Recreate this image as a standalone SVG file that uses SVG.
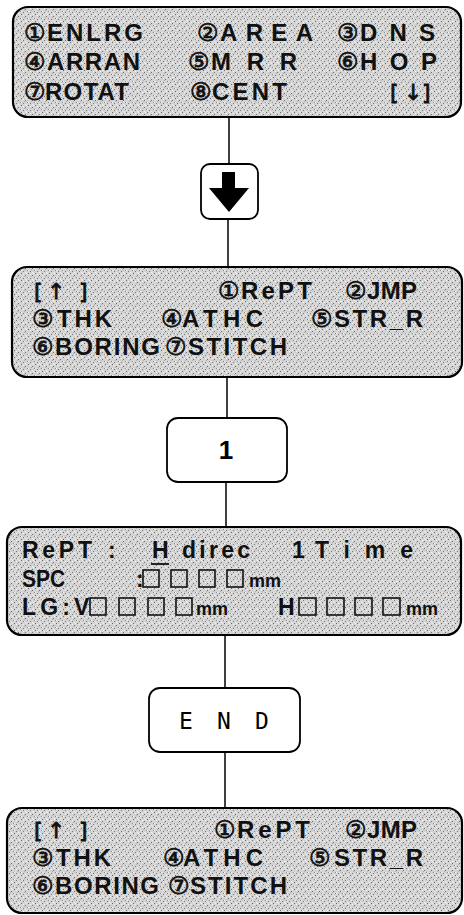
<svg xmlns="http://www.w3.org/2000/svg" width="464" height="915" viewBox="0 0 464 915">
<defs>
<pattern id="ht" width="7" height="7" patternUnits="userSpaceOnUse">
<rect width="7" height="7" fill="#d4d4d4"/>
<rect x="0" y="0" width="1" height="1" fill="#6a6a6a"/>
<rect x="4" y="2" width="1" height="1" fill="#707070"/>
<rect x="2" y="5" width="1" height="1" fill="#7a7a7a"/>
<rect x="6" y="4" width="1" height="1" fill="#888"/>
<rect x="2" y="1" width="1" height="1" fill="#f6f6f6"/>
<rect x="5" y="0" width="1" height="1" fill="#f2f2f2"/>
<rect x="0" y="4" width="1" height="1" fill="#f6f6f6"/>
<rect x="4" y="6" width="1" height="1" fill="#f0f0f0"/>
<rect x="3" y="3" width="1" height="1" fill="#b0b0b0"/>
</pattern>
<style>
.panel{fill:url(#ht);stroke:#000;stroke-width:2.2}
.btn{fill:#fff;stroke:#000;stroke-width:1.8}
.conn{stroke:#000;stroke-width:1.5;fill:none}
.t{font-family:"Liberation Sans",Arial,sans-serif;font-weight:700;font-size:24px;fill:#111}
.t3{font-family:"Liberation Sans",Arial,sans-serif;font-weight:700;font-size:23px;fill:#111}
.mm{font-size:18px}
.c{font-family:"DejaVu Sans","Noto Sans CJK JP",sans-serif;font-weight:400;font-size:24px;stroke:#111;stroke-width:0.8}
.ar{font-family:"DejaVu Sans",sans-serif;font-weight:400;font-size:22px;stroke:#111;stroke-width:0.8}
.fld{fill:none;stroke:#111;stroke-width:1.6}
.key{font-family:"Liberation Sans",sans-serif;font-weight:bold;font-size:26px;fill:#000}
.mono{font-family:"DejaVu Sans Mono","Liberation Mono",monospace;font-size:23px;fill:#000}
</style>
</defs>

<g id="connectors">
<line class="conn" x1="229" y1="117" x2="229" y2="164"/>
<line class="conn" x1="228" y1="219" x2="228" y2="267"/>
<line class="conn" x1="227" y1="377" x2="227" y2="418"/>
<line class="conn" x1="226" y1="482" x2="226" y2="527"/>
<line class="conn" x1="225" y1="635" x2="225" y2="688"/>
<line class="conn" x1="225" y1="752" x2="225" y2="808"/>
</g>

<g id="menu1">
<rect class="panel" x="13" y="7" width="448" height="110" rx="15"/>
<text class="t" y="41"><tspan class="c" x="24">①</tspan><tspan x="47" textLength="96" lengthAdjust="spacing">ENLRG</tspan><tspan class="c" x="197">②</tspan><tspan x="220" textLength="93" lengthAdjust="spacing">AREA</tspan><tspan class="c" x="337">③</tspan><tspan x="360" textLength="75" lengthAdjust="spacing">DNS</tspan></text>
<text class="t" y="70"><tspan class="c" x="24">④</tspan><tspan x="47" textLength="93" lengthAdjust="spacing">ARRAN</tspan><tspan class="c" x="188">⑤</tspan><tspan x="211" textLength="86" lengthAdjust="spacing">MRR</tspan><tspan class="c" x="337">⑥</tspan><tspan x="360" textLength="77" lengthAdjust="spacing">HOP</tspan></text>
<text class="t" y="100"><tspan class="c" x="24">⑦</tspan><tspan x="45" textLength="84" lengthAdjust="spacing">ROTAT</tspan><tspan class="c" x="190">⑧</tspan><tspan x="212" textLength="75" lengthAdjust="spacing">CENT</tspan><tspan class="ar" x="390 404 422">[↓]</tspan></text>
</g>

<g id="key-down">
<rect class="btn" x="201" y="164" width="57" height="55" rx="9"/>
<polygon points="222,172 235,172 235,188 249,188 229,212 209,188 222,188" fill="#000"/>
</g>

<g id="menu2">
<rect class="panel" x="12" y="267" width="450" height="110" rx="15"/>
<text class="t" y="299"><tspan class="ar" x="34 47 79">[↑]</tspan><tspan class="c" x="218">①</tspan><tspan x="241" textLength="71" lengthAdjust="spacing">RePT</tspan><tspan class="c" x="345">②</tspan><tspan x="367" textLength="50" lengthAdjust="spacing">JMP</tspan></text>
<text class="t" y="327"><tspan class="c" x="32">③</tspan><tspan x="57" textLength="55" lengthAdjust="spacing">THK</tspan><tspan class="c" x="161">④</tspan><tspan x="182" textLength="81" lengthAdjust="spacing">ATHC</tspan><tspan class="c" x="311">⑤</tspan><tspan x="334" textLength="89" lengthAdjust="spacing">STR_R</tspan></text>
<text class="t" y="355"><tspan class="c" x="32">⑥</tspan><tspan x="55" textLength="105" lengthAdjust="spacing">BORING</tspan><tspan class="c" x="165">⑦</tspan><tspan x="188" textLength="99" lengthAdjust="spacing">STITCH</tspan></text>
</g>

<g id="key-1">
<rect class="btn" x="167" y="418" width="120" height="64" rx="11"/>
<text class="key" x="226" y="459" text-anchor="middle">1</text>
</g>

<g id="repeat-screen">
<rect class="panel" x="7" y="527" width="454" height="108" rx="15"/>
<text class="t3" y="558"><tspan x="22" textLength="70" lengthAdjust="spacing">RePT</tspan><tspan x="108">:</tspan><tspan x="152">H</tspan><tspan x="182" textLength="68" lengthAdjust="spacing">direc</tspan><tspan x="292">1</tspan><tspan x="315" textLength="98" lengthAdjust="spacing">Time</tspan></text>
<line x1="151" y1="564" x2="169" y2="564" stroke="#111" stroke-width="1.8"/>
<text class="t3" y="587"><tspan x="22" textLength="43" lengthAdjust="spacingAndGlyphs">SPC</tspan><tspan x="136">:</tspan><tspan class="mm" x="249">mm</tspan></text>
<rect class="fld" x="143" y="570" width="16" height="17"/>
<rect class="fld" x="171" y="570" width="16" height="17"/>
<rect class="fld" x="199" y="570" width="16" height="17"/>
<rect class="fld" x="227" y="570" width="16" height="17"/>
<text class="t3" y="615"><tspan x="22" textLength="48" lengthAdjust="spacing">LG:</tspan><tspan x="74">V</tspan><tspan class="mm" x="196">mm</tspan><tspan x="278">H</tspan><tspan class="mm" x="406">mm</tspan></text>
<rect class="fld" x="90" y="598" width="16" height="17"/>
<rect class="fld" x="119" y="598" width="16" height="17"/>
<rect class="fld" x="148" y="598" width="16" height="17"/>
<rect class="fld" x="176" y="598" width="16" height="17"/>
<rect class="fld" x="299" y="598" width="17" height="17"/>
<rect class="fld" x="327" y="598" width="17" height="17"/>
<rect class="fld" x="355" y="598" width="17" height="17"/>
<rect class="fld" x="383" y="598" width="17" height="17"/>
</g>

<g id="key-end">
<rect class="btn" x="149" y="688" width="151" height="64" rx="11"/>
<text class="mono" x="179 199 217 237 255" y="729">E N D</text>
</g>

<g id="menu3">
<rect class="panel" x="7" y="808" width="455" height="105" rx="15"/>
<text class="t" y="838"><tspan class="ar" x="34 47 79">[↑]</tspan><tspan class="c" x="214">①</tspan><tspan x="237" textLength="73" lengthAdjust="spacing">RePT</tspan><tspan class="c" x="345">②</tspan><tspan x="367" textLength="50" lengthAdjust="spacing">JMP</tspan></text>
<text class="t" y="866"><tspan class="c" x="32">③</tspan><tspan x="56" textLength="55" lengthAdjust="spacing">THK</tspan><tspan class="c" x="163">④</tspan><tspan x="183" textLength="80" lengthAdjust="spacing">ATHC</tspan><tspan class="c" x="309">⑤</tspan><tspan x="334" textLength="89" lengthAdjust="spacing">STR_R</tspan></text>
<text class="t" y="894"><tspan class="c" x="32">⑥</tspan><tspan x="55" textLength="104" lengthAdjust="spacing">BORING</tspan><tspan class="c" x="168">⑦</tspan><tspan x="190" textLength="97" lengthAdjust="spacing">STITCH</tspan></text>
</g>
</svg>
